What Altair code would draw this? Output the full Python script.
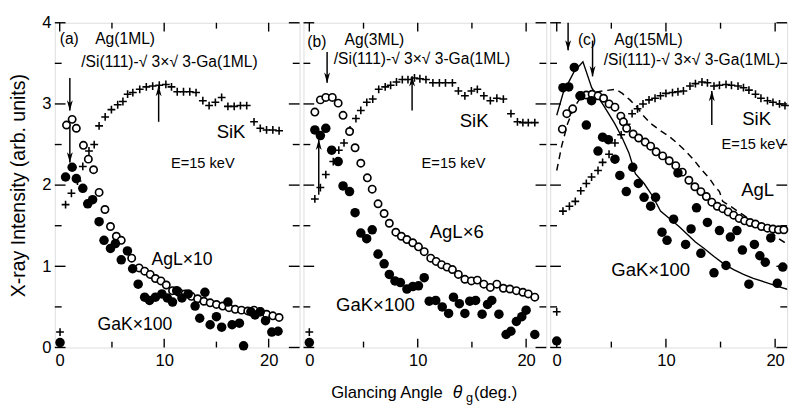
import altair as alt
import pandas as pd

FONT = "Liberation Sans"

# ---------------- data ----------------
# Panel (a)
a_sik_x = [0.03, 0.56, 1.12, 1.7, 2.21, 2.8, 3.3, 3.77, 4.35, 4.95, 5.55, 6.05, 6.5, 7.0, 7.66, 8.29, 8.9, 9.53, 10.16, 10.7, 11.25, 11.85, 12.45, 13.05, 13.7, 14.3, 14.9, 15.5, 16.1, 16.7, 17.3, 17.9, 18.6, 19.2, 19.8, 20.4, 21.0]
a_sik_y = [0.19, 1.76, 1.90, 2.05, 2.23, 2.42, 2.50, 2.73, 2.84, 2.93, 2.99, 3.03, 3.12, 3.14, 3.18, 3.21, 3.22, 3.23, 3.24, 3.21, 3.15, 3.15, 3.15, 3.14, 3.04, 2.98, 3.02, 3.08, 2.97, 2.97, 2.98, 2.98, 2.78, 2.70, 2.68, 2.68, 2.67]
a_agl_x = [0.65, 1.19, 1.59, 2.27, 2.74, 3.24, 3.77, 4.33, 4.86, 5.42, 5.89, 6.89, 7.6, 8.13, 8.66, 9.16, 9.69, 10.2, 10.8, 11.4, 12.0, 12.6, 13.2, 13.8, 14.4, 15.0, 15.6, 16.2, 16.8, 17.4, 18.0, 18.6, 19.2, 19.8, 20.4, 21.0]
a_agl_y = [2.74, 2.81, 2.70, 2.49, 2.32, 2.19, 1.91, 1.70, 1.49, 1.37, 1.32, 1.10, 0.98, 0.94, 0.90, 0.85, 0.82, 0.77, 0.70, 0.68, 0.66, 0.63, 0.60, 0.57, 0.55, 0.53, 0.51, 0.49, 0.47, 0.46, 0.45, 0.46, 0.44, 0.41, 0.39, 0.37]
a_gak_x = [0.03, 0.56, 1.19, 1.59, 2.21, 2.68, 3.15, 3.77, 4.24, 4.86, 5.33, 5.89, 6.48, 6.98, 7.51, 8.13, 8.6, 9.16, 9.78, 10.3, 10.8, 11.2, 11.7, 12.3, 12.96, 13.4, 13.9, 14.4, 15.0, 15.5, 16.1, 16.5, 17.2, 17.6, 18.3, 18.7, 19.2, 19.7, 20.3, 20.9]
a_gak_y = [0.06, 2.10, 2.22, 2.08, 1.96, 1.77, 1.82, 1.55, 1.32, 1.22, 1.28, 1.08, 1.19, 0.97, 0.78, 0.62, 0.58, 0.62, 0.66, 0.61, 0.56, 0.70, 0.61, 0.66, 0.51, 0.36, 0.68, 0.28, 0.38, 0.25, 0.56, 0.28, 0.30, 0.02, 0.44, 0.40, 0.44, 0.33, 0.19, 0.20]

# Panel (b)
b_sik_x = [0.0, 0.51, 1.02, 1.52, 2.21, 2.72, 3.2, 3.75, 4.3, 4.75, 5.3, 5.85, 6.4, 7.0, 7.5, 8.04, 8.58, 9.1, 9.7, 10.2, 10.76, 11.4, 12.0, 12.56, 13.2, 13.75, 14.35, 14.95, 15.5, 16.1, 16.7, 17.3, 17.9, 18.6, 19.2, 19.7, 20.2, 20.8]
b_sik_y = [0.19, 1.83, 1.97, 2.13, 2.29, 2.43, 2.52, 2.68, 2.82, 2.92, 3.02, 3.06, 3.18, 3.21, 3.23, 3.27, 3.30, 3.30, 3.32, 3.31, 3.30, 3.26, 3.26, 3.26, 3.26, 3.16, 3.10, 3.16, 3.18, 3.10, 3.04, 3.07, 3.06, 2.88, 2.78, 2.77, 2.77, 2.77]
b_agl_x = [0.51, 1.02, 1.52, 2.12, 2.66, 3.11, 3.71, 4.22, 4.75, 5.35, 5.8, 6.34, 6.9, 7.38, 7.98, 8.49, 9.0, 9.54, 10.07, 10.6, 11.2, 11.7, 12.2, 12.7, 13.2, 13.75, 14.35, 14.95, 15.5, 16.1, 16.7, 17.3, 17.9, 18.5, 19.1, 19.7, 20.2, 20.8]
b_agl_y = [2.90, 3.05, 3.08, 3.08, 3.01, 2.86, 2.66, 2.46, 2.27, 2.09, 1.95, 1.77, 1.65, 1.53, 1.42, 1.37, 1.33, 1.29, 1.24, 1.18, 1.10, 1.06, 1.02, 0.99, 0.96, 0.90, 0.84, 0.82, 0.83, 0.78, 0.74, 0.78, 0.73, 0.72, 0.70, 0.68, 0.66, 0.62]
b_gak_x = [0.0, 0.51, 1.02, 1.52, 2.06, 2.66, 3.11, 3.71, 4.22, 4.75, 5.29, 5.8, 6.34, 6.9, 7.38, 7.9, 8.4, 9.0, 9.54, 10.07, 10.6, 11.06, 11.66, 12.26, 12.85, 13.3, 13.84, 14.35, 14.8, 15.34, 15.94, 16.44, 16.83, 17.49, 18.15, 18.6, 19.1, 19.6, 20.0, 20.8]
b_gak_y = [0.06, 2.68, 2.61, 2.70, 2.43, 2.29, 1.99, 1.92, 1.66, 1.41, 1.34, 1.45, 1.15, 1.03, 0.90, 0.82, 0.80, 0.72, 0.75, 0.76, 0.86, 0.57, 0.58, 0.50, 0.42, 0.62, 0.54, 0.42, 0.57, 0.58, 0.41, 0.53, 0.58, 0.41, 0.16, 0.20, 0.32, 0.38, 0.46, 0.16]

# Panel (c)
c_sik_x = [0.0, 0.57, 1.16, 1.7, 2.2, 2.71, 3.19, 3.78, 4.2, 4.79, 5.33, 5.9, 6.4, 6.9, 7.4, 7.9, 8.45, 9.0, 9.5, 10.0, 10.6, 11.1, 11.6, 12.2, 12.7, 13.3, 13.8, 14.4, 14.9, 15.5, 16.0, 16.6, 17.1, 17.6, 18.2, 18.7, 19.3, 19.8, 20.4, 20.9]
c_sik_y = [0.44, 1.68, 1.74, 1.80, 1.93, 2.02, 2.10, 2.18, 2.28, 2.38, 2.52, 2.62, 2.75, 2.88, 2.94, 3.00, 3.05, 3.07, 3.10, 3.13, 3.14, 3.15, 3.16, 3.22, 3.25, 3.27, 3.26, 3.22, 3.23, 3.24, 3.23, 3.22, 3.20, 3.17, 3.12, 3.07, 3.04, 3.02, 3.00, 2.98]
c_agl_x = [0.51, 0.92, 1.46, 2.1, 2.71, 3.24, 3.78, 4.29, 4.79, 5.33, 5.87, 6.1, 6.4, 7.0, 7.5, 8.1, 8.6, 9.1, 9.7, 10.3, 10.9, 11.5, 12.1, 12.65, 13.2, 13.7, 14.2, 14.7, 15.2, 15.7, 16.2, 16.7, 17.2, 17.7, 18.2, 18.75, 19.3, 19.8, 20.3, 20.8]
c_agl_y = [2.69, 2.88, 2.94, 3.10, 3.11, 3.12, 3.10, 3.07, 3.00, 2.96, 2.85, 2.78, 2.70, 2.63, 2.58, 2.53, 2.48, 2.41, 2.36, 2.30, 2.24, 2.16, 2.06, 1.98, 1.92, 1.86, 1.79, 1.74, 1.71, 1.67, 1.63, 1.59, 1.56, 1.54, 1.52, 1.49, 1.47, 1.46, 1.45, 1.45]
c_gak_x = [0.0, 0.57, 1.10, 1.61, 2.2, 2.71, 3.19, 3.78, 4.2, 4.73, 5.33, 5.78, 6.37, 6.96, 7.47, 8.0, 8.6, 9.05, 9.64, 10.1, 10.7, 11.1, 11.8, 12.3, 12.8, 13.2, 13.8, 14.4, 14.9, 15.5, 15.9, 16.5, 17.0, 17.6, 18.1, 18.6, 19.1, 19.6, 20.2, 20.7]
c_gak_y = [0.08, 3.20, 3.21, 3.45, 3.10, 2.74, 3.04, 2.42, 2.59, 2.56, 2.32, 2.12, 1.92, 2.22, 2.02, 1.85, 1.74, 1.85, 1.42, 1.32, 1.58, 2.15, 1.27, 1.46, 1.72, 1.16, 1.54, 0.92, 1.44, 1.01, 1.36, 1.44, 1.20, 0.78, 1.27, 1.13, 1.05, 1.35, 0.79, 0.99]
c_solid_x = [0.0, 0.6, 1.6, 2.4, 3.2, 4.3, 5.3, 6.0, 6.6, 7.2, 8.0, 8.8, 9.5, 10.4, 11.2, 11.9, 12.7, 13.5, 14.4, 15.3, 16.2, 17.1, 18.0, 19.2, 20.1, 21.5]
c_solid_y = [2.86, 3.14, 3.40, 3.52, 3.20, 2.98, 2.76, 2.58, 2.40, 2.14, 2.02, 1.86, 1.68, 1.58, 1.49, 1.40, 1.30, 1.22, 1.12, 1.03, 0.96, 0.90, 0.85, 0.80, 0.76, 0.70]
c_dash_x = [0.0, 0.45, 1.0, 1.6, 2.2, 2.7, 3.3, 4.2, 5.4, 6.0, 6.7, 7.3, 7.9, 8.6, 9.4, 10.3, 11.0, 11.8, 12.5, 13.2, 14.0, 14.4, 14.9, 15.2, 15.9, 17.0, 18.1, 19.3, 20.1, 20.8, 21.4]
c_dash_y = [2.18, 2.48, 2.76, 2.96, 3.08, 3.12, 3.14, 3.16, 3.18, 3.13, 3.05, 2.97, 2.86, 2.76, 2.68, 2.60, 2.52, 2.42, 2.32, 2.20, 2.08, 2.00, 1.92, 1.80, 1.74, 1.64, 1.54, 1.48, 1.36, 1.30, 1.28]

# Arrows: x, start y, end y (tip)
a_arrows = {"x": [0.97, 0.97, 9.47], "y0": [3.32, 2.72, 2.78], "y1": [2.92, 2.28, 3.22]}
b_arrows = {"x": [1.64, 0.87, 9.48], "y0": [3.64, 1.88, 2.92], "y1": [3.26, 2.56, 3.34]}
c_arrows = {"x": [1.04, 3.28, 14.2], "y0": [4.0, 3.78, 2.74], "y1": [3.66, 3.34, 3.16]}

SI = "/Si(111)-\u221a 3\u00d7\u221a 3-Ga(1ML)"
# Annotations: text, x, y, font size, align
a_texts = {"t": ["(a)", "Ag(1ML)", SI, "SiK", "E=15 keV", "AgL\u00d710", "GaK\u00d7100"],
           "x": [0.0, 6.26, 2.06, 16.4, 13.7, 11.7, 7.2],
           "y": [3.80, 3.80, 3.52, 2.65, 2.27, 1.08, 0.28],
           "s": [16, 16, 16, 19, 15, 18, 18],
           "al": ["left", "center", "left", "center", "center", "center", "center"]}
b_texts = {"t": ["(b)", "Ag(3ML)", SI, "SiK", "E=15 keV", "AgL\u00d76", "GaK\u00d7100"],
           "x": [-0.18, 6.0, 2.25, 15.2, 13.3, 13.6, 6.1],
           "y": [3.76, 3.78, 3.55, 2.79, 2.27, 1.42, 0.52],
           "s": [16, 16, 16, 19, 15, 19, 19],
           "al": ["left", "center", "left", "center", "center", "center", "center"]}
c_texts = {"t": ["(c)", "Ag(15ML)", SI, "SiK", "E=15 keV", "AgL", "GaK\u00d7100"],
           "x": [1.94, 8.4, 4.3, 18.3, 18.0, 18.4, 8.6],
           "y": [3.79, 3.78, 3.54, 2.81, 2.51, 1.94, 0.95],
           "s": [16, 16, 16, 19, 15, 19, 19],
           "al": ["left", "center", "left", "center", "center", "center", "center"]}

y_major = [0, 1, 2, 3, 4]
y_minor = [0.5, 1.5, 2.5, 3.5]
x_major = [0, 10, 20]
x_minor = [5, 15]

H = 333
CROSS = "M-1,0L1,0M0,-1L0,1"
HEAD_DOWN = "M-0.55,-1L0,1L0.55,-1L0,-0.45Z"
HEAD_UP = "M-0.55,1L0,-1L0.55,1L0,0.45Z"


def panel(sik, agl, gak, arrows, texts, domain, W, show_y, lines=None, xtitle=False):
    xs = alt.Scale(domain=domain, nice=False, zero=False)
    ys = alt.Scale(domain=[0, 4], nice=False, zero=False)
    xax = alt.Axis(values=x_major, ticks=False, domain=False, grid=False, title=None,
                   labelFontSize=17, labelPadding=5, labelFont=FONT, labelColor="black")
    if show_y:
        yax = alt.Axis(values=y_major, ticks=False, domain=False, grid=False,
                       title="X-ray Intensity (arb. units)", titleFontSize=20, titleFont=FONT,
                       titleFontWeight="normal", titleColor="black", titlePadding=14,
                       labelFontSize=17, labelPadding=4, labelFont=FONT, labelColor="black")
    else:
        yax = None

    def X(f):
        return alt.X(f, type="quantitative", scale=xs, axis=xax)

    def Y(f):
        return alt.Y(f, type="quantitative", scale=ys, axis=yax)

    layers = []
    # ticks (inward)
    for vals, ln in ((y_major, 11), (y_minor, 7)):
        d = pd.DataFrame({"v": vals})
        layers.append(alt.Chart(d).mark_rule(color="black", strokeWidth=1.4).encode(
            y=Y("v"), x=alt.value(0), x2=alt.value(ln)))
        layers.append(alt.Chart(d).mark_rule(color="black", strokeWidth=1.4).encode(
            y=Y("v"), x=alt.value(W - ln), x2=alt.value(W)))
    for vals, ln in ((x_major, 9), (x_minor, 6)):
        d = pd.DataFrame({"v": vals})
        layers.append(alt.Chart(d).mark_rule(color="black", strokeWidth=1.4).encode(
            x=X("v"), y=alt.value(0), y2=alt.value(ln)))
        layers.append(alt.Chart(d).mark_rule(color="black", strokeWidth=1.4).encode(
            x=X("v"), y=alt.value(H - ln), y2=alt.value(H)))

    if lines is not None:
        sx, sy, dx, dy = lines
        ds = pd.DataFrame({"x": sx, "y": sy})
        dd = pd.DataFrame({"x": dx, "y": dy})
        layers.append(alt.Chart(dd).mark_line(color="black", strokeWidth=1.5, strokeDash=[7, 5], clip=True)
                      .encode(x=X("x"), y=Y("y")))
        layers.append(alt.Chart(ds).mark_line(color="black", strokeWidth=1.4, clip=True)
                      .encode(x=X("x"), y=Y("y")))

    ds = pd.DataFrame({"x": sik[0], "y": sik[1]})
    layers.append(alt.Chart(ds).mark_point(shape=CROSS, size=64, stroke="black", strokeWidth=1.6,
                                           filled=False, opacity=1).encode(x=X("x"), y=Y("y")))
    da = pd.DataFrame({"x": agl[0], "y": agl[1]})
    layers.append(alt.Chart(da).mark_point(shape="circle", size=56, fill="white", stroke="black",
                                           strokeWidth=1.7, filled=True, opacity=1, fillOpacity=1)
                  .encode(x=X("x"), y=Y("y")))
    dg = pd.DataFrame({"x": gak[0], "y": gak[1]})
    layers.append(alt.Chart(dg).mark_circle(size=95, color="black", opacity=1)
                  .encode(x=X("x"), y=Y("y")))

    # arrows
    dar = pd.DataFrame(arrows)
    dar["down"] = dar["y1"] < dar["y0"]
    layers.append(alt.Chart(dar).mark_rule(color="black", strokeWidth=1.5)
                  .encode(x=X("x"), y=Y("y0"), y2=alt.Y2("y1")))
    dn = dar[dar["down"]]
    up = dar[~dar["down"]]
    if len(dn):
        layers.append(alt.Chart(dn).mark_point(shape=HEAD_DOWN, size=120, filled=True, color="black",
                                               opacity=1, yOffset=-5).encode(x=X("x"), y=Y("y1")))
    if len(up):
        layers.append(alt.Chart(up).mark_point(shape=HEAD_UP, size=120, filled=True, color="black",
                                               opacity=1, yOffset=5).encode(x=X("x"), y=Y("y1")))

    # texts
    dt = pd.DataFrame(texts)
    for al in ("left", "center"):
        sub = dt[dt["al"] == al]
        if len(sub):
            layers.append(alt.Chart(sub).mark_text(align=al, baseline="middle", font=FONT,
                                                   color="black", clip=True)
                          .encode(x=X("x"), y=Y("y"), text="t:N",
                                  size=alt.Size("s:Q", scale=None, legend=None)))

    if xtitle:
        xt = pd.DataFrame({"t": ["Glancing Angle"], "x": [12.3], "y": [-0.56]})
        layers.append(alt.Chart(xt).mark_text(align="right", baseline="middle", font=FONT,
                                              fontSize=17, color="black")
                      .encode(x=X("x"), y=Y("y"), text="t:N"))
        th = pd.DataFrame({"t": ["\u03b8"], "x": [13.66], "y": [-0.56]})
        layers.append(alt.Chart(th).mark_text(align="center", baseline="middle", font=FONT,
                                              fontSize=18, fontStyle="italic", color="black")
                      .encode(x=X("x"), y=Y("y"), text="t:N"))
        gs = pd.DataFrame({"t": ["g"], "x": [14.78], "y": [-0.62]})
        layers.append(alt.Chart(gs).mark_text(align="center", baseline="middle", font=FONT,
                                              fontSize=13, color="black")
                      .encode(x=X("x"), y=Y("y"), text="t:N"))
        dg2 = pd.DataFrame({"t": ["(deg.)"], "x": [15.18], "y": [-0.56]})
        layers.append(alt.Chart(dg2).mark_text(align="left", baseline="middle", font=FONT,
                                               fontSize=17, color="black")
                      .encode(x=X("x"), y=Y("y"), text="t:N"))

    return alt.layer(*layers).properties(width=W, height=H)


pa = panel((a_sik_x, a_sik_y), (a_agl_x, a_agl_y), (a_gak_x, a_gak_y), a_arrows, a_texts,
           [-0.47, 22.96], 251, True)
pb = panel((b_sik_x, b_sik_y), (b_agl_x, b_agl_y), (b_gak_x, b_gak_y), b_arrows, b_texts,
           [-0.54, 21.86], 249, False, xtitle=True)
pc = panel((c_sik_x, c_sik_y), (c_agl_x, c_agl_y), (c_gak_x, c_gak_y), c_arrows, c_texts,
           [-0.6, 21.1], 243, False, lines=(c_solid_x, c_solid_y, c_dash_x, c_dash_y))

chart = alt.hconcat(pa, pb, pc, spacing=0).properties(
    padding={"left": 0, "top": 0, "right": 0, "bottom": 0}
).configure_view(stroke="black", strokeWidth=1.6).configure(background="white")

chart.save("out.html", embed_options={"renderer": "svg", "actions": False})
